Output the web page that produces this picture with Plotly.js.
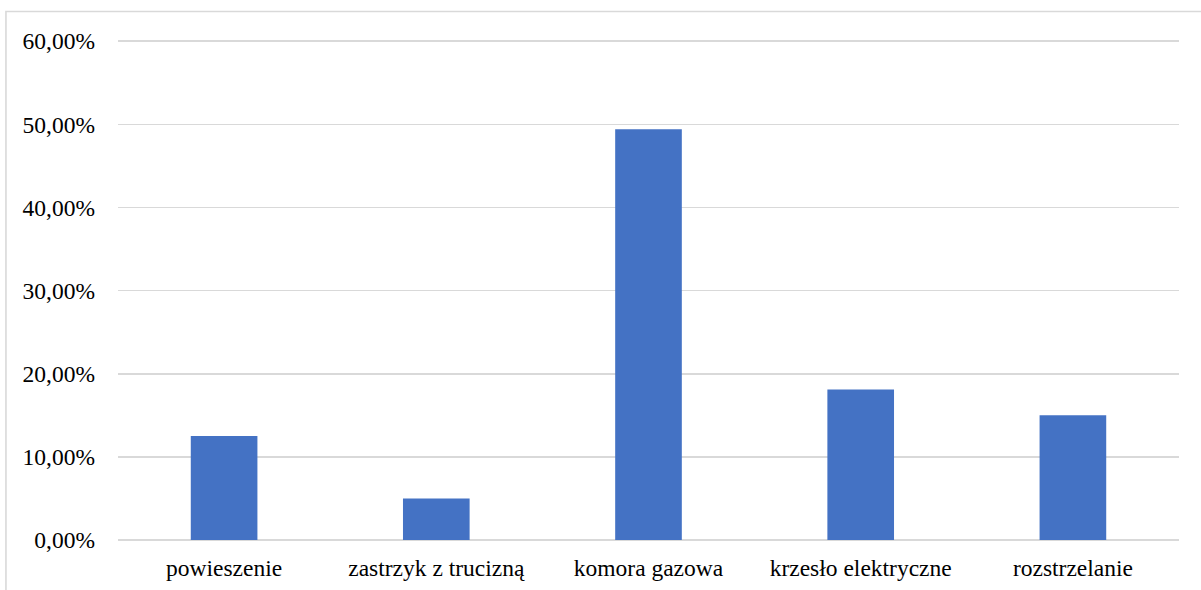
<!DOCTYPE html>
<html>
<head>
<meta charset="utf-8">
<script src="https://cdn.plot.ly/plotly-3.0.1.min.js"></script>
<style>
  html, body { margin: 0; padding: 0; background: #ffffff; }
  #chart { width: 1201px; height: 590px; }
</style>
</head>
<body>
<div id="chart"></div>
<script>
// Metody egzekucji – odsetek wskazań
const categories = ['powieszenie', 'zastrzyk z trucizną', 'komora gazowa', 'krzesło elektryczne', 'rozstrzelanie'];
const shares = [0.125, 0.050, 0.494, 0.181, 0.150];
const yTicks = [0, 0.1, 0.2, 0.3, 0.4, 0.5, 0.6];

const barColor = '#4472C4';
const gridColor = '#d9d9d9';
const serifFamily = 'Liberation Serif';
const labelSize = 23.5;

const layout = {
  width: 1201,
  height: 590,
  margin: { l: 118, r: 22, t: 40, b: 50 },
  paper_bgcolor: '#ffffff',
  plot_bgcolor: '#ffffff',
  separators: ', ',
  font: { family: serifFamily, size: labelSize, color: '#000000' },
  showlegend: false,
  bargap: 0.686,
  xaxis: {
    type: 'category',
    showgrid: false,
    showline: false,
    ticks: '',
    tickfont: { family: serifFamily, size: labelSize, color: '#000000' },
    ticklabelstandoff: 11
  },
  yaxis: {
    range: [0, 0.6015],
    tickvals: yTicks,
    tickformat: '.2%',
    showgrid: true,
    gridcolor: gridColor,
    gridwidth: 1.6,
    zeroline: true,
    zerolinecolor: gridColor,
    zerolinewidth: 1.6,
    showline: false,
    ticks: '',
    tickfont: { family: serifFamily, size: labelSize, color: '#000000' },
    ticklabelstandoff: 22
  },
  shapes: [{
    type: 'rect',
    xref: 'paper', yref: 'paper',
    x0: -0.1056, x1: 1.1, y0: -0.2, y1: 1.057,
    line: { color: gridColor, width: 1.6 },
    fillcolor: 'rgba(0,0,0,0)',
    layer: 'below'
  }]
};

const trace = {
  type: 'bar',
  x: categories,
  y: shares,
  marker: { color: barColor, line: { width: 0 } },
  hoverinfo: 'x+y'
};

Plotly.newPlot('chart', [trace], layout, { displayModeBar: false, staticPlot: true });
</script>
</body>
</html>
